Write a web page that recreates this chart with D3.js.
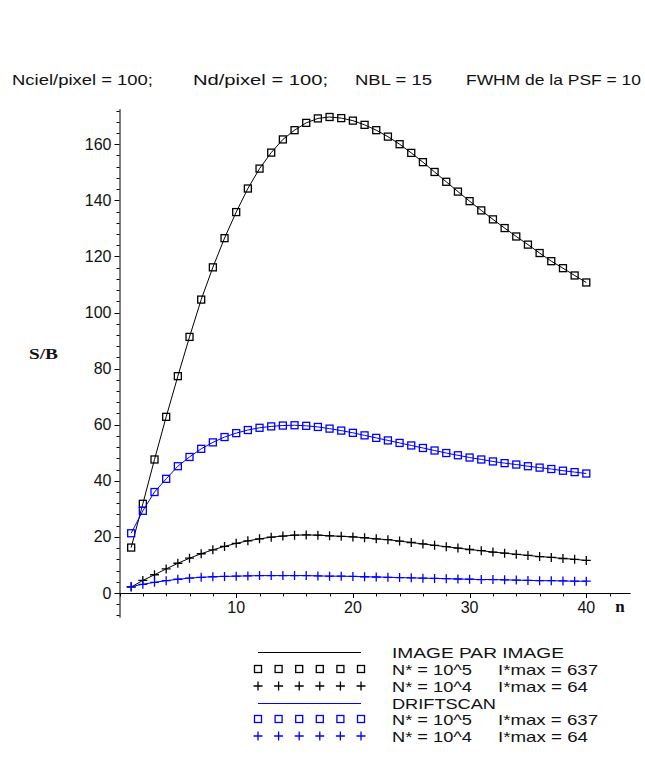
<!DOCTYPE html>
<html>
<head>
<meta charset="utf-8">
<script src="https://cdn.jsdelivr.net/npm/d3@7"></script>
<style>
  body { margin: 0; background: #fff; }
  svg { display: block; }
  text { font-family: "Liberation Sans", Arial, sans-serif; fill: #111; }
  .serif { font-family: "Liberation Serif", "Times New Roman", serif; font-weight: bold; }
</style>
</head>
<body>
<svg id="chart" width="645" height="760"></svg>
<script>
// Signal-to-noise ratio S/B versus number of images n
const nValues = d3.range(1, 41);

// "Image par image", N* = 10^5
const imageN5 = [16.2, 31.8, 47.6, 62.8, 77.3, 91.3, 104.6, 116.1, 126.5, 135.8,
                 144.2, 151.3, 157.0, 161.7, 165.0, 167.6, 169.2, 169.7, 169.3, 168.4,
                 166.9, 165.0, 162.7, 160.0, 156.9, 153.6, 150.1, 146.6, 143.1, 139.7,
                 136.4, 133.2, 130.1, 127.1, 124.2, 121.2, 118.3, 115.8, 113.2, 110.7];
// "Image par image", N* = 10^4
const imageN4 = [2.1, 4.5, 6.5, 8.6, 10.6, 12.4, 14.0, 15.4, 16.6, 17.7,
                 18.6, 19.3, 19.9, 20.3, 20.6, 20.7, 20.6, 20.4, 20.2, 20.0,
                 19.7, 19.3, 19.0, 18.5, 18.0, 17.5, 17.0, 16.5, 16.0, 15.5,
                 15.1, 14.6, 14.2, 13.8, 13.4, 13.0, 12.7, 12.3, 12.0, 11.6];
// Driftscan, N* = 10^5
const driftN5 = [21.3, 29.3, 36.0, 40.7, 45.2, 48.5, 51.4, 53.7, 55.6, 57.0,
                 58.1, 58.9, 59.4, 59.7, 59.8, 59.6, 59.2, 58.6, 57.9, 57.1,
                 56.2, 55.3, 54.4, 53.5, 52.6, 51.7, 50.8, 49.9, 49.1, 48.3,
                 47.6, 46.9, 46.3, 45.8, 45.2, 44.7, 44.2, 43.6, 43.1, 42.6];
// Driftscan, N* = 10^4
const driftN4 = [2.3, 3.1, 3.8, 4.4, 4.9, 5.3, 5.6, 5.8, 5.9, 6.0,
                 6.1, 6.2, 6.2, 6.2, 6.2, 6.2, 6.1, 6.0, 6.0, 5.9,
                 5.8, 5.7, 5.6, 5.5, 5.4, 5.3, 5.2, 5.1, 5.0, 4.9,
                 4.8, 4.8, 4.7, 4.6, 4.5, 4.4, 4.4, 4.3, 4.2, 4.2];

const xMajorTicks = [10, 20, 30, 40];
const xMinorTicks = d3.range(0, 43, 2);
const yMajorTicks = [0, 20, 40, 60, 80, 100, 120, 140, 160];
const yMinorTicks = d3.range(-8, 173, 4);

const titleParts = ["Nciel/pixel = 100;", "Nd/pixel = 100;", "NBL = 15", "FWHM de la PSF = 10"];
const xLabel = "n";
const yLabel = "S/B";

const legendTitles = ["IMAGE PAR IMAGE", "DRIFTSCAN"];
const legendColors = ["#000000", "#0000ff"];
const legendNstar = ["N* = 10^5", "N* = 10^4"];
const legendImax = ["I*max = 637", "I*max = 64"];

const svg = d3.select("#chart");

const x = d3.scaleLinear().domain([0, 40]).range([119.5, 586.3]);
const y = d3.scaleLinear().domain([0, 160]).range([593, 144.2]);

// Text stretched to a given width (the screen font is wider than Arial)
function putText(parent, str, px, py, width, size, anchor) {
  const t = parent.append("text")
    .attr("x", px).attr("y", py)
    .attr("font-size", size)
    .attr("text-anchor", anchor || "start")
    .text(str);
  if (width) t.attr("textLength", width).attr("lengthAdjust", "spacingAndGlyphs");
  return t;
}

// Title
const titleX = [12, 193, 355, 466];
const titleW = [141, 135, 77, 175];
titleParts.forEach((s, i) => putText(svg, s, titleX[i], 85, titleW[i], 15));

// Axes
const axes = svg.append("g").attr("stroke", "#000").attr("stroke-width", 1);
axes.append("line")
  .attr("x1", x(-0.25)).attr("x2", x(43.8))
  .attr("y1", y(0) + 0.5).attr("y2", y(0) + 0.5);
axes.append("line")
  .attr("x1", x(0) + 0.5).attr("x2", x(0) + 0.5)
  .attr("y1", y(172.5)).attr("y2", y(-8.8));

// x ticks (below the axis)
xMinorTicks.forEach(t => {
  const major = xMajorTicks.includes(t);
  axes.append("line")
    .attr("x1", Math.round(x(t)) + 0.5).attr("x2", Math.round(x(t)) + 0.5)
    .attr("y1", y(0)).attr("y2", y(0) + (major ? 5 : 3.5));
});
// y ticks (left of the axis)
yMinorTicks.forEach(t => {
  const major = yMajorTicks.includes(t);
  axes.append("line")
    .attr("x1", x(0)).attr("x2", x(0) - (major ? 5 : 3))
    .attr("y1", Math.round(y(t)) + 0.5).attr("y2", Math.round(y(t)) + 0.5);
});

const xl = svg.append("g");
xMajorTicks.forEach(d => putText(xl, String(d), x(d), y(0) + 20, null, 16, "middle"));
const yl = svg.append("g");
yMajorTicks.forEach(d => putText(yl, String(d), x(0) - 8, y(d) + 5.5, null, 16, "end"));

putText(svg, xLabel, 620, 612, null, 17, "middle").attr("class", "serif");
putText(svg, yLabel, 29, 359, 29, 15).attr("class", "serif");

// Series
const series = [
  { values: imageN5, color: legendColors[0], marker: "square" },
  { values: imageN4, color: legendColors[0], marker: "plus" },
  { values: driftN5, color: legendColors[1], marker: "square" },
  { values: driftN4, color: legendColors[1], marker: "plus" }
];

const line = d3.line().x(d => x(d[0])).y(d => y(d[1]));

function drawMarker(g, cx, cy, kind, color) {
  if (kind === "square") {
    g.append("rect")
      .attr("x", cx - 3.5).attr("y", cy - 3.5)
      .attr("width", 7).attr("height", 7)
      .attr("fill", "none").attr("stroke", color).attr("stroke-width", 1.3);
  } else {
    g.append("path")
      .attr("d", `M${cx - 4.5},${cy}H${cx + 4.5}M${cx},${cy - 4.5}V${cy + 4.5}`)
      .attr("stroke", color).attr("stroke-width", 1.3).attr("fill", "none");
  }
}

series.forEach(s => {
  const pts = nValues.map((n, i) => [n, s.values[i]]);
  const g = svg.append("g");
  g.append("path").attr("d", line(pts))
    .attr("fill", "none").attr("stroke", s.color).attr("stroke-width", 1);
  pts.forEach(p => drawMarker(g, x(p[0]), y(p[1]), s.marker, s.color));
});

// Legend
const legendX0 = 258, legendX1 = 361, legendTextX = 392, imaxX = 498;
const rowY = [652, 669, 686, 703, 719, 736];
const titleWidths = [172, 104];
const imaxWidths = [100, 90];
const markerXs = d3.range(6).map(i => legendX0 + i * (legendX1 - legendX0) / 5);
legendTitles.forEach((title, gi) => {
  const base = gi * 3;
  const color = legendColors[gi];
  const lg = svg.append("g");
  lg.append("line")
    .attr("x1", legendX0).attr("x2", legendX1)
    .attr("y1", rowY[base] + 0.5).attr("y2", rowY[base] + 0.5)
    .attr("stroke", color).attr("stroke-width", 1.2);
  putText(lg, title, legendTextX, rowY[base] + 5.5, titleWidths[gi], 15);
  ["square", "plus"].forEach((kind, ki) => {
    const ry = rowY[base + 1 + ki];
    markerXs.forEach(mx => drawMarker(lg, mx, ry, kind, color));
    putText(lg, legendNstar[ki], legendTextX, ry + 5.5, 80, 15);
    putText(lg, legendImax[ki], imaxX, ry + 5.5, imaxWidths[ki], 15);
  });
});
</script>
</body>
</html>
